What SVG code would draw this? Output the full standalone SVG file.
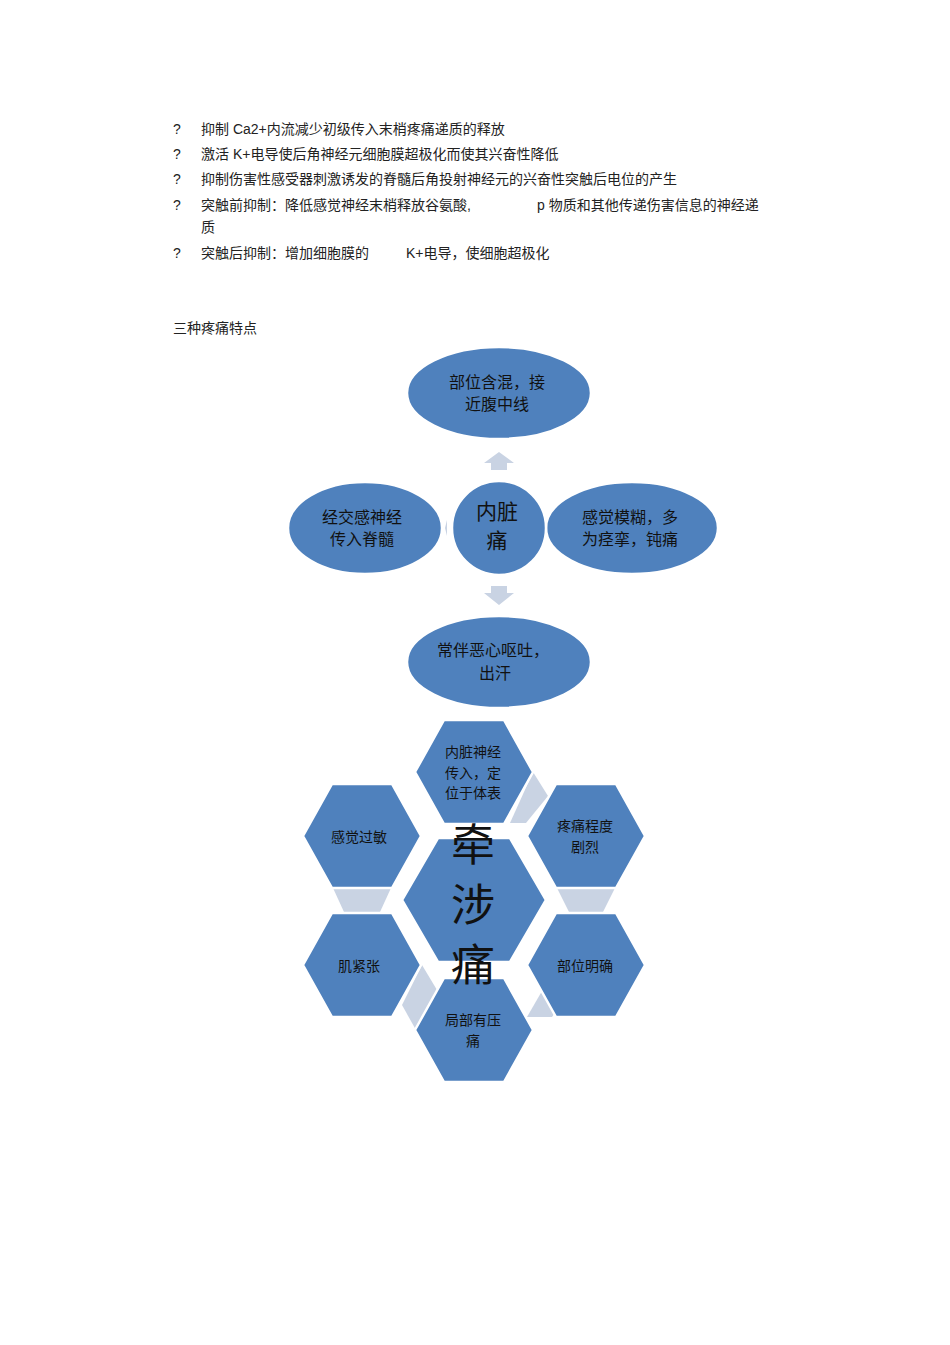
<svg xmlns="http://www.w3.org/2000/svg" width="950" height="1345" viewBox="0 0 950 1345">
<style>
.t{font-family:"Liberation Sans","Noto Sans CJK SC",sans-serif;font-size:14px;fill:#222}
.n{font-family:"Noto Sans CJK SC",sans-serif;fill:#111;text-anchor:middle}
.e{fill:#4f81bd;stroke:#fff;stroke-width:2.5}
.h{fill:#4f81bd;stroke:#fff;stroke-width:2.5}
.c{fill:#c9d3e3}
</style>
<rect width="950" height="1345" fill="#fff"/>
<g id="text">
<text class="t" x="173" y="134">?</text><text class="t" x="201" y="134">抑制  Ca2+内流减少初级传入末梢疼痛递质的释放</text>
<text class="t" x="173" y="159">?</text><text class="t" x="201" y="159">激活  K+电导使后角神经元细胞膜超极化而使其兴奋性降低</text>
<text class="t" x="173" y="184">?</text><text class="t" x="201" y="184">抑制伤害性感受器刺激诱发的脊髓后角投射神经元的兴奋性突触后电位的产生</text>
<text class="t" x="173" y="210">?</text><text class="t" x="201" y="210">突触前抑制：降低感觉神经末梢释放谷氨酸,</text><text class="t" x="537" y="210">p  物质和其他传递伤害信息的神经递</text>
<text class="t" x="201" y="232">质</text>
<text class="t" x="173" y="258">?</text><text class="t" x="201" y="258">突触后抑制：增加细胞膜的</text><text class="t" x="406" y="258">K+电导，使细胞超极化</text>
<text class="t" x="173" y="333">三种疼痛特点</text>
</g>
<g id="connectors">
<polygon class="c" points="491,470 491,463 484,463 499,452 514,463 507,463 507,470"/>
<polygon class="c" points="491,586 491,593 484,593 499,605 514,593 507,593 507,586"/>
<polygon class="c" points="447,520 445,528 447,536" />
<polygon class="c" points="533,772 548,796 526,823 510,823"/>
<polygon class="c" points="557,888 615,888 603,912 569,912"/>
<polygon class="c" points="557,965 527,1017 552,1017 570,990"/>
<polygon class="c" points="422,965 437,990 416,1030 402,1005 "/>
<polygon class="c" points="333,888 391,888 380,912 344,912"/>
</g>
<g id="n1"><ellipse class="e" cx="499" cy="393" rx="92" ry="46"/><text class="n" x="497" y="388" font-size="16">部位含混，接</text><text class="n" x="497" y="410" font-size="16">近腹中线</text></g>
<g id="n2"><ellipse class="e" cx="365" cy="528" rx="77" ry="46"/><text class="n" x="362" y="523" font-size="16">经交感神经</text><text class="n" x="362" y="545" font-size="16">传入脊髓</text></g>
<g id="n3"><ellipse class="e" cx="632" cy="528" rx="86" ry="46"/><text class="n" x="630" y="523" font-size="16">感觉模糊，多</text><text class="n" x="630" y="545" font-size="16">为痉挛，钝痛</text></g>
<g id="n4"><ellipse class="e" cx="499" cy="662" rx="92" ry="46"/><text class="n" x="493" y="656" font-size="16">常伴恶心呕吐，</text><text class="n" x="495" y="679" font-size="16">出汗</text></g>
<g id="n0"><circle class="e" cx="499" cy="528" r="47"/><text class="n" x="497" y="519" font-size="21">内脏</text><text class="n" x="497" y="548" font-size="21">痛</text></g>
<g id="h1"><polygon class="h" points="415,772 444,720 504,720 533,772 504,824 444,824"/><text class="n" x="473" y="757" font-size="14">内脏神经</text><text class="n" x="473" y="778" font-size="14">传入，定</text><text class="n" x="473" y="798" font-size="14">位于体表</text></g>
<g id="h2"><polygon class="h" points="303,836 332,784 392,784 421,836 392,888 332,888"/><text class="n" x="359" y="842" font-size="14">感觉过敏</text></g>
<g id="h3"><polygon class="h" points="527,836 556,784 616,784 645,836 616,888 556,888"/><text class="n" x="585" y="831" font-size="14">疼痛程度</text><text class="n" x="585" y="852" font-size="14">剧烈</text></g>
<g id="h4"><polygon class="h" points="303,965 332,913 392,913 421,965 392,1017 332,1017"/><text class="n" x="359" y="971" font-size="14">肌紧张</text></g>
<g id="h5"><polygon class="h" points="527,965 556,913 616,913 645,965 616,1017 556,1017"/><text class="n" x="585" y="971" font-size="14">部位明确</text></g>
<g id="h6"><polygon class="h" points="415,1030 444,978 504,978 533,1030 504,1082 444,1082"/><text class="n" x="473" y="1025" font-size="14">局部有压</text><text class="n" x="473" y="1046" font-size="14">痛</text></g>
<g id="h0"><polygon class="h" points="402,900 438,838 510,838 546,900 510,962 438,962"/><text class="n" x="473" y="861" font-size="44">牵</text><text class="n" x="473" y="921" font-size="44">涉</text><text class="n" x="473" y="981" font-size="44">痛</text></g>
</svg>
